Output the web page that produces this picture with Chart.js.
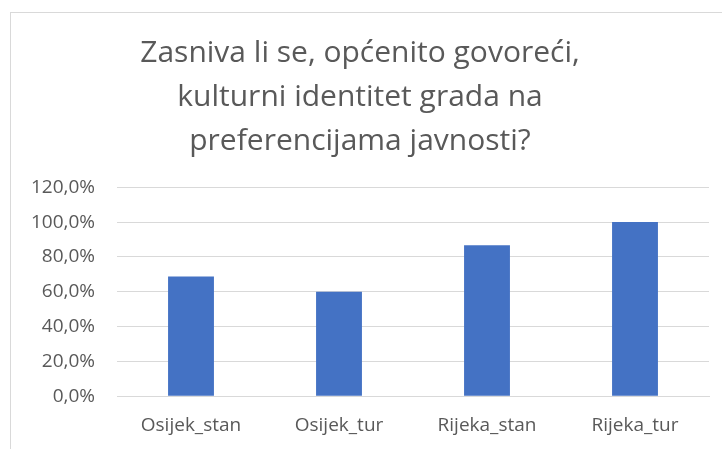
<!DOCTYPE html>
<html>
<head>
<meta charset="utf-8">
<script src="https://cdn.jsdelivr.net/npm/chart.js@4.4.0/dist/chart.umd.min.js"></script>
<style>
    html, body { margin: 0; padding: 0; background: #fff; overflow: hidden; }
    body { width: 722px; height: 449px; position: relative; }
    .frame {
        position: absolute; left: 10px; top: 12px; width: 730px; height: 460px;
        border: 1px solid #d9d9d9; box-sizing: border-box;
    }
    .chart-wrap { position: absolute; left: 11px; top: 13px; width: 718px; height: 436px; }
</style>
</head>
<body>
<div class="frame"></div>
<div class="chart-wrap"><canvas id="identityChart"></canvas></div>
<script>
// Chart data
const categories = ['Osijek_stan', 'Osijek_tur', 'Rijeka_stan', 'Rijeka_tur'];
const shareYes = [68.8, 60.0, 86.7, 100.0];
const titleLines = ['Zasniva li se, općenito govoreći,', 'kulturni identitet grada na', 'preferencijama javnosti?'];

const fontFamily = "'Open Sans', sans-serif";

function formatPercent(v) {
    return v.toFixed(1).replace('.', ',') + '%';
}

document.addEventListener('DOMContentLoaded', function() {
    const ctx = document.getElementById('identityChart');
    new Chart(ctx, {
        type: 'bar',
        data: {
            labels: categories,
            datasets: [{
                data: shareYes,
                backgroundColor: '#4472C4',
                borderWidth: 0,
                categoryPercentage: 1.0,
                barPercentage: 0.31
            }]
        },
        options: {
            responsive: true,
            maintainAspectRatio: false,
            animation: false,
            layout: { padding: { left: 0, right: 20, bottom: 2 } },
            plugins: {
                legend: { display: false },
                tooltip: { enabled: false },
                title: {
                    display: true,
                    text: titleLines,
                    color: '#595959',
                    font: { family: fontFamily, size: 30, weight: 'normal', lineHeight: 1.47 },
                    padding: { top: 18, bottom: 24 }
                }
            },
            scales: {
                x: {
                    grid: { display: false },
                    border: { display: true, color: '#d9d9d9', width: 1 },
                    ticks: { color: '#595959', font: { family: fontFamily, size: 19 }, padding: 10 }
                },
                y: {
                    min: 0,
                    max: 120,
                    afterFit: function(scale) { scale.width = 106; },
                    grid: { color: '#d9d9d9', lineWidth: 1, drawTicks: false },
                    border: { display: false },
                    ticks: {
                        stepSize: 20,
                        color: '#595959',
                        font: { family: fontFamily, size: 19 },
                        padding: 22,
                        callback: function(value) { return formatPercent(value); }
                    }
                }
            }
        }
    });
});
</script>
</body>
</html>
